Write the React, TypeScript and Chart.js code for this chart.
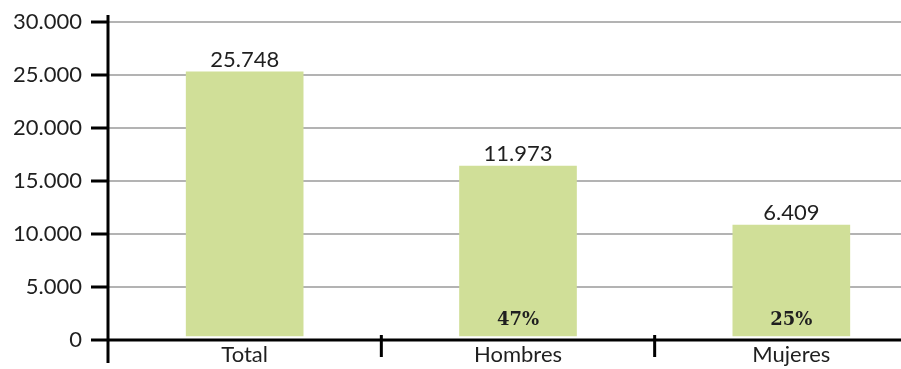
import React, { useEffect, useRef } from 'react';
import { Chart, registerables } from 'chart.js';

Chart.register(...registerables);

const categories = ['Total', 'Hombres', 'Mujeres'];
const barValues = [25300, 16400, 10850];
const valueLabels = ['25.748', '11.973', '6.409'];
const shareLabels = ['', '47%', '25%'];
const yTicks = [0, 5000, 10000, 15000, 20000, 25000, 30000];
const barBase = 380;

const FONT = 'Lato, "DejaVu Sans", sans-serif';
const TEXT = '#1f1f1f';

const fmt = (v: number) => String(v).replace(/\B(?=(\d{3})+(?!\d))/g, '.');

export default function App() {
  const ref = useRef<HTMLCanvasElement>(null);

  useEffect(() => {
    if (!ref.current) return;
    const decor = {
      id: 'decor',
      afterDatasetsDraw(chart: any) {
        const { ctx, chartArea: a, scales } = chart;
        const x = scales.x;
        const y = scales.y;
        ctx.save();
        const meta = chart.getDatasetMeta(0);
        meta.data.forEach((bar: any, i: number) => {
          ctx.fillStyle = TEXT;
          ctx.textAlign = 'center';
          ctx.textBaseline = 'alphabetic';
          ctx.font = `22px ${FONT}`;
          ctx.fillText(valueLabels[i], bar.x, bar.y - 5);
          if (shareLabels[i]) {
            ctx.font = 'bold 18px "DejaVu Serif", serif';
            ctx.fillText(shareLabels[i], bar.x, y.getPixelForValue(0) - 15);
          }
        });
        ctx.strokeStyle = '#000';
        ctx.lineWidth = 3;
        ctx.beginPath();
        ctx.moveTo(a.left, a.top - 7);
        ctx.lineTo(a.left, a.bottom + 23);
        ctx.moveTo(a.left - 17, a.bottom);
        ctx.lineTo(a.right, a.bottom);
        yTicks.forEach((v) => {
          const py = y.getPixelForValue(v);
          ctx.moveTo(a.left - 17, py);
          ctx.lineTo(a.left, py);
        });
        for (let i = 1; i < categories.length; i++) {
          const px = (x.getPixelForValue(i - 1) + x.getPixelForValue(i)) / 2;
          ctx.moveTo(px, a.bottom - 5);
          ctx.lineTo(px, a.bottom + 17);
        }
        ctx.stroke();
        ctx.restore();
      },
    };

    const chart = new Chart(ref.current, {
      type: 'bar',
      data: {
        labels: categories,
        datasets: [
          {
            data: barValues,
            base: barBase,
            backgroundColor: '#d0df98',
            borderWidth: 0,
            barThickness: 117,
          } as any,
        ],
      },
      options: {
        animation: false,
        responsive: false,
        devicePixelRatio: 1,
        layout: { padding: { top: 22, left: 0, right: 0, bottom: 0 } },
        plugins: { legend: { display: false }, tooltip: { enabled: false } },
        scales: {
          x: {
            grid: { display: false, drawTicks: false },
            border: { display: false },
            ticks: { color: TEXT, font: { family: FONT, size: 22 }, padding: 2 },
            afterFit: (s: any) => {
              s.height = 29;
              s.paddingLeft = 0;
              s.paddingRight = 0;
            },
          },
          y: {
            min: 0,
            max: 30000,
            grid: { color: '#b3b3b3', lineWidth: 2, drawTicks: false },
            border: { display: false },
            ticks: {
              stepSize: 5000,
              color: TEXT,
              font: { family: FONT, size: 22 },
              padding: 26,
              callback: (v: any) => fmt(Number(v)),
            },
            afterFit: (s: any) => {
              s.width = 108;
              s.paddingTop = 0;
              s.paddingBottom = 0;
            },
          },
        },
      },
      plugins: [decor],
    });
    return () => chart.destroy();
  }, []);

  return (
    <div
      style={{
        position: 'fixed',
        left: 0,
        top: 0,
        width: 901,
        height: 369,
        overflow: 'hidden',
        background: '#fff',
      }}
    >
      <canvas ref={ref} width={928} height={369} style={{ display: 'block' }} />
    </div>
  );
}
